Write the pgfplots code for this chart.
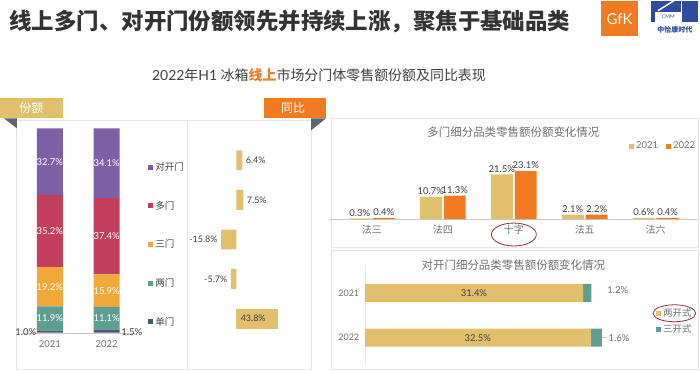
\documentclass[border=0pt]{standalone}
\usepackage{pgfplots}
\pgfplotsset{compat=1.18}
\usepackage{fontspec}
\setmainfont{Lato}
\newfontfamily\cjk{Noto Sans CJK SC}
\newcommand{\fsz}[1]{\fontsize{#1}{#1}\selectfont}
\definecolor{ctan}{HTML}{E2BF6C}
\definecolor{orng}{HTML}{F27B21}
\definecolor{purp}{HTML}{7E5FA5}
\definecolor{crim}{HTML}{C2405E}
\definecolor{amb}{HTML}{F2A93B}
\definecolor{teal2}{HTML}{5E9E91}
\definecolor{slate}{HTML}{4D5676}
\definecolor{txt}{HTML}{404040}
\definecolor{ttl}{HTML}{333333}
\definecolor{gtxt}{HTML}{6F6F6F}
\definecolor{lgray}{HTML}{E6E6E6}
\definecolor{agray}{HTML}{C8C8C8}
\definecolor{tri}{HTML}{5C6670}
\definecolor{ell}{HTML}{8E2F35}
\definecolor{cmmblue}{HTML}{2F4C9C}
\begin{document}
\begin{tikzpicture}[x=1pt,y=-1pt]
\path (0,0) rectangle (700,372);
% title
\node[anchor=west, text=ttl, font=\cjk\bfseries\fsz{22.5}] at (6,21) {线上多门、对开门份额领先并持续上涨，聚焦于基础品类};
% logos
\fill[orng] (603,0) rectangle (640,35);
\node[white, font=\fsz{15}] at (621.5,18) {GfK};
\fill[cmmblue] (653,0) rectangle (700,21);
\fill[white] (657,11) rectangle (684,21);
\draw[white, line width=1.5pt] (660,10) -- (676,0);
\draw[white, line width=1pt] (684,0) -- (684,21);
\node[text=cmmblue, font=\fsz{5}] at (670.5,16) {CMM};
\node[text=cmmblue, font=\cjk\bfseries\fsz{7}] at (677,29) {中怡康时代};
% subtitle
\node[text=txt, font=\fsz{14}] at (320,75) {2022{\cjk 年}H1 {\cjk 冰箱\textcolor{orng}{\bfseries 线上}市场分门体零售额份额及同比表现}};
% label boxes
\draw[lgray] (16,120) rectangle (312,370);
\draw[lgray] (188,120) -- (188,370);
\fill[ctan] (0,98) rectangle (63,118);
\node[white, font=\cjk\fsz{12}] at (31.5,108) {份额};
\fill[tri] (4,118) -- (17,118) -- (17,128) -- cycle;
\fill[orng] (265,98) rectangle (327,118);
\node[white, font=\cjk\fsz{12}] at (294,108) {同比};
\fill[tri] (312,118) -- (327,118) -- (312,130) -- cycle;
% right panel frames
\draw[lgray] (332,118) rectangle (700,247);
\draw[lgray] (332,250) rectangle (700,370);

% ---- stacked share bars
\begin{axis}[at={(21.5pt,-333pt)}, anchor=south west, scale only axis,
  width=114pt, height=205pt,
  ybar stacked, bar width=26pt,
  xmin=-0.5, xmax=1.5, ymin=0, ymax=100, clip=false,
  axis x line=bottom, hide y axis, axis line style={-, draw=agray},
  xtick={0,1}, xticklabels={2021,2022}, tick style={draw=none},
  tick label style={font=\fsz{9.5}, text=gtxt},
  xticklabel style={yshift=-2pt},
  legend image code/.code={\fill[#1,draw=none] (0pt,-2.5pt) rectangle (5pt,2.5pt);},
  reverse legend,
  legend style={at={(1.09,0.853)}, anchor=north west, draw=none, fill=none,
    font=\cjk\fsz{9.5}, text=txt, row sep=25.3pt, legend cell align=left},
]
\addplot[fill=slate, draw=none] coordinates {(0,1.0) (1,1.5)};
\addplot[fill=teal2, draw=none] coordinates {(0,11.9) (1,11.1)};
\addplot[fill=amb, draw=none] coordinates {(0,19.2) (1,15.9)};
\addplot[fill=crim, draw=none] coordinates {(0,35.2) (1,37.4)};
\addplot[fill=purp, draw=none] coordinates {(0,32.7) (1,34.1)};
\legend{单门,两门,三门,多门,对开门}
\coordinate (a2) at (axis cs:0,6.95);
\coordinate (a3) at (axis cs:0,22.5);
\coordinate (a4) at (axis cs:0,49.7);
\coordinate (a5) at (axis cs:0,83.65);
\coordinate (b2) at (axis cs:1,7.05);
\coordinate (b3) at (axis cs:1,20.55);
\coordinate (b4) at (axis cs:1,47.2);
\coordinate (b5) at (axis cs:1,82.95);
\coordinate (a1) at (axis cs:-0.22,0.5);
\coordinate (b1) at (axis cs:1.24,0.5);
\end{axis}
\begin{scope}[every node/.style={text=white, font=\fsz{9.5}}]
\node at (a2) {11.9\%};
\node at (a3) {19.2\%};
\node at (a4) {35.2\%};
\node at (a5) {32.7\%};
\node at (b2) {11.1\%};
\node at (b3) {15.9\%};
\node at (b4) {37.4\%};
\node at (b5) {34.1\%};
\end{scope}
\node[anchor=east, text=txt, font=\fsz{9.5}, inner sep=1pt] at (a1) {1.0\%};
\node[anchor=west, text=txt, font=\fsz{9.5}, inner sep=1pt] at (b1) {1.5\%};

% ---- YoY bars
\begin{axis}[at={(217.8pt,-338.9pt)}, anchor=south west, scale only axis,
  width=67.2pt, height=198.75pt,
  xbar, bar width=20pt,
  xmin=-20, xmax=50, ymin=-0.5, ymax=4.5, hide axis,
  point meta=explicit symbolic, nodes near coords={\pgfplotspointmeta},
  every node near coord/.append style={font=\fsz{9}, text=txt},
]
\addplot[fill=ctan, draw=none, bar shift=0pt,
  every node near coord/.append style={anchor=west}]
  coordinates {(6.4,4) [6.4\%] (7.5,3) [7.5\%]};
\addplot[fill=ctan, draw=none, bar shift=0pt,
  every node near coord/.append style={anchor=east}]
  coordinates {(-15.8,2) [-15.8\%] (-5.7,1) [-5.7\%]};
\addplot[fill=ctan, draw=none, bar shift=0pt,
  every node near coord/.append style={anchor=east, xshift=-9pt}]
  coordinates {(43.8,0) [43.8\%]};
\end{axis}

% ---- multi-door sub categories
\node[text=gtxt, font=\cjk\fsz{11.5}] at (515,132) {多门细分品类零售额份额变化情况};
\begin{axis}[at={(330.3pt,-219pt)}, anchor=south west, scale only axis,
  width=370.2pt, height=52pt,
  ybar, bar width=22pt,
  xmin=-0.6, xmax=4.6, ymin=0, ymax=25,
  axis x line=bottom, hide y axis, axis line style={-, draw=agray},
  xtick={0,1,2,3,4}, xticklabels={法三,法四,十字,法五,法六}, tick style={draw=none},
  tick label style={font=\cjk\fsz{10}, text=gtxt},
  point meta=explicit symbolic, nodes near coords={\pgfplotspointmeta},
  every node near coord/.append style={font=\fsz{9.5}, text=txt, inner sep=2pt},
  legend image code/.code={\fill[#1,draw=none] (0pt,-2.5pt) rectangle (5pt,2.5pt);},
  legend style={at={(0.804,1.404)}, anchor=west, draw=none, fill=none,
    font=\fsz{9.5}, text=gtxt, legend columns=2,
    /tikz/every even column/.append style={column sep=6pt}},
  clip=false,
]
\addplot[fill=ctan, draw=none] coordinates {(0,0.3) [0.3\%] (1,10.7) [10.7\%] (2,21.5) [21.5\%] (3,2.1) [2.1\%] (4,0.6) [0.6\%]};
\addplot[fill=orng, draw=none] coordinates {(0,0.4) [0.4\%] (1,11.3) [11.3\%] (2,23.1) [23.1\%] (3,2.2) [2.2\%] (4,0.4) [0.4\%]};
\legend{2021,2022}
\end{axis}
\draw[ell, line width=0.8pt] (515.5,234.5) ellipse [x radius=22.5, y radius=11.5];

% ---- double-door sub categories
\node[text=gtxt, font=\cjk\fsz{11.5}] at (515,265) {对开门细分品类零售额份额变化情况};
\begin{axis}[at={(366pt,-365pt)}, anchor=south west, scale only axis,
  width=278.8pt, height=99pt,
  xbar stacked, bar width=18pt,
  xmin=0, xmax=40, ymin=-0.6, ymax=1.6,
  axis y line=left, hide x axis, axis line style={-, draw=lgray},
  ytick={0,1}, yticklabels={2022,2021}, tick style={draw=none},
  tick label style={font=\fsz{9}, text=gtxt},
  legend image code/.code={\fill[#1,draw=none] (0pt,-2.5pt) rectangle (5pt,2.5pt);},
  legend style={at={(1.037,0.606)}, anchor=north west, draw=none, fill=none,
    font=\cjk\fsz{9.5}, text=gtxt, row sep=2pt, legend cell align=left},
  clip=false,
]
\addplot[fill=ctan, draw=none] coordinates {(31.4,1) (32.5,0)};
\addplot[fill=teal2, draw=none] coordinates {(1.2,1) (1.6,0)};
\legend{两开式,三开式}
\coordinate (c1) at (axis cs:15.7,1);
\coordinate (c2) at (axis cs:16.25,0);
\node[text=gtxt, font=\fsz{9.5}, anchor=west] at (axis cs:34.4,1.05) {1.2\%};
\draw[agray] (axis cs:34.15,0) -- (axis cs:34.9,0);
\node[text=gtxt, font=\fsz{9.5}, anchor=west, inner sep=1pt] at (axis cs:34.9,0) {1.6\%};
\end{axis}
\node[text=txt, font=\fsz{9.5}] at (c1) {31.4\%};
\node[text=txt, font=\fsz{9.5}] at (c2) {32.5\%};
\draw[ell, line width=0.8pt] (676.5,313.5) ellipse [x radius=21.5, y radius=8.5];
\end{tikzpicture}
\end{document}
